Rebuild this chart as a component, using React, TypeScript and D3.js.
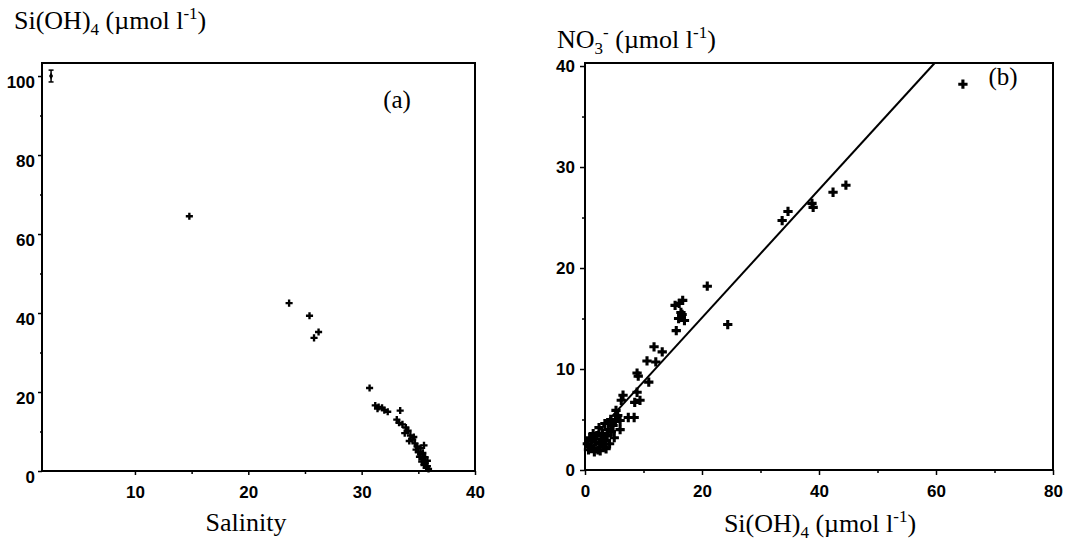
import * as d3 from "d3";
import { useEffect, useRef } from "react";

// (a) salinity vs silicate
const salinity = [14.8, 23.6, 25.4, 26.2, 25.8, 30.7, 31.2, 31.5, 31.8, 32.0, 32.3, 31.4, 33.4, 33.1, 33.3, 33.6, 33.9, 34.1, 33.8, 34.3, 34.5, 34.2, 34.7, 34.9, 34.8, 35.0, 35.2, 35.1, 35.4, 35.3, 35.6, 35.5, 35.8, 35.7, 35.9, 35.2, 35.4, 35.6, 35.8, 35.5, 34.6];
const silicateA = [64.5, 42.5, 39.3, 35.2, 33.7, 21.0, 16.6, 16.2, 16.0, 15.4, 15.0, 15.8, 15.3, 13.0, 12.2, 11.8, 11.0, 10.2, 9.6, 9.0, 8.0, 7.6, 7.0, 6.2, 5.4, 4.8, 4.2, 3.6, 3.0, 2.4, 2.0, 1.5, 1.2, 0.8, 0.5, 5.8, 4.6, 3.5, 2.6, 6.5, 8.6];
// river end member with error bar
const riverPoint = { s: 2.6, si: 100, err: 1.5 };

// (b) silicate vs nitrate
const silicateB = [0.6, 1.0, 1.2, 1.5, 1.8, 2.0, 2.2, 2.5, 2.8, 3.0, 3.2, 3.5, 3.8, 4.0, 4.2, 4.5, 4.8, 5.0, 0.8, 1.4, 2.4, 3.4, 4.4, 2.6, 3.6, 1.6, 0.4, 5.2, 5.6, 3.0, 6.0, 4.4, 6.0, 7.4, 8.4, 5.3, 6.2, 6.5, 8.5, 9.4, 8.9, 10.9, 9.1, 8.9, 10.6, 12.1, 11.8, 13.2, 15.6, 16.0, 16.6, 17.0, 16.4, 15.4, 16.1, 16.7, 20.9, 24.4, 33.7, 34.7, 38.8, 39.0, 42.4, 44.6, 64.6];
const nitrate = [2.0, 2.4, 3.0, 2.2, 2.8, 3.4, 2.0, 2.6, 3.1, 3.6, 2.3, 2.9, 3.4, 4.0, 2.6, 3.8, 4.4, 3.2, 3.2, 3.6, 4.2, 4.6, 5.0, 1.9, 2.1, 1.8, 2.6, 4.8, 5.4, 2.8, 4.0, 4.8, 4.9, 5.2, 5.2, 5.9, 6.9, 7.4, 6.7, 6.9, 7.7, 8.7, 9.3, 9.6, 10.8, 10.7, 12.2, 11.7, 13.8, 15.0, 15.4, 14.8, 15.6, 16.3, 16.5, 16.8, 18.2, 14.4, 24.7, 25.6, 26.4, 26.0, 27.5, 28.2, 38.2];
const fitSlope = 0.634;
const fitIntercept = 2.4;

const ticksAx = [10, 20, 30, 40];
const minorAx = [15, 25, 35];
const ticksAy = [0, 20, 40, 60, 80, 100];
const minorAy = [10, 30, 50, 70, 90];
const ticksBx = [0, 20, 40, 60, 80];
const minorBx = [10, 30, 50, 70];
const ticksBy = [0, 10, 20, 30, 40];
const minorBy = [5, 15, 25, 35];

const serif = "'Liberation Serif', 'Times New Roman', serif";
const sans = "'Liberation Sans', Arial, sans-serif";

// text with sub/superscripts; level: 0 base, "sub" lowered, "sup" raised
const addUnitTitle = (g, x, y, parts) => {
  const t = g.append("text").attr("x", x).attr("y", y).attr("font-family", serif).attr("font-size", 26).attr("fill", "#000");
  let cur = 0;
  parts.forEach(([txt, lvl, dx]) => {
    const target = lvl === "sub" ? 6 : lvl === "sup" ? -10 : 0;
    const sp = t.append("tspan").text(txt).attr("dy", target - cur);
    if (lvl) sp.attr("font-size", 17);
    if (dx) sp.attr("dx", dx);
    cur = target;
  });
  return t;
};

const App = () => {
  const svgRef = useRef(null);

  useEffect(() => {
    const svg = d3.select(svgRef.current);
    svg.selectAll("*").remove();

    const xA = d3.scaleLinear().domain([1.8, 40]).range([42, 475]);
    const yA = d3.scaleLinear().domain([0, 103.3]).range([471, 63]);
    const xB = d3.scaleLinear().domain([0, 80]).range([585, 1053]);
    const yB = d3.scaleLinear().domain([0, 40.3]).range([470, 63]);

    const styleAxis = (g) => {
      g.select(".domain").remove();
      g.selectAll("line").attr("stroke", "#000").attr("stroke-width", 1.5);
      g.selectAll("text").attr("font-family", sans).attr("font-size", 17).attr("font-weight", "bold").attr("fill", "#000");
    };

    // ---- panel (a)
    const a = svg.append("g");
    a.append("g").attr("transform", "translate(0,471)")
      .call(d3.axisBottom(xA).tickValues(ticksAx).tickSize(4).tickPadding(11).tickFormat(d3.format("d")))
      .call(styleAxis);
    a.append("g").attr("transform", "translate(0,471)")
      .call(d3.axisBottom(xA).tickValues(minorAx).tickSize(3).tickFormat(() => ""))
      .call(styleAxis);
    a.append("g").attr("transform", "translate(42,0)")
      .call(d3.axisLeft(yA).tickValues(ticksAy).tickSize(4).tickPadding(3).tickFormat(d3.format("d")))
      .call(styleAxis)
      .selectAll("text").attr("dy", "0.7em");
    a.append("g").attr("transform", "translate(42,0)")
      .call(d3.axisLeft(yA).tickValues(minorAy).tickSize(2).tickFormat(() => ""))
      .call(styleAxis);
    a.append("rect").attr("x", 42).attr("y", 63).attr("width", 433).attr("height", 408)
      .attr("fill", "none").attr("stroke", "#000").attr("stroke-width", 2);

    const smallSym = d3.symbol(d3.symbolCross).size(28);
    a.selectAll("path.pa").data(salinity).enter().append("path").attr("class", "pa")
      .attr("d", smallSym)
      .attr("transform", (d, i) => `translate(${xA(d)},${yA(silicateA[i])})`)
      .attr("fill", "#000");

    const rx = xA(riverPoint.s);
    a.append("line").attr("x1", rx).attr("x2", rx)
      .attr("y1", yA(riverPoint.si - riverPoint.err)).attr("y2", yA(riverPoint.si + riverPoint.err))
      .attr("stroke", "#000").attr("stroke-width", 1.5);
    [riverPoint.si - riverPoint.err, riverPoint.si + riverPoint.err].forEach((v) => {
      a.append("line").attr("x1", rx - 2.5).attr("x2", rx + 2.5).attr("y1", yA(v)).attr("y2", yA(v))
        .attr("stroke", "#000").attr("stroke-width", 1.5);
    });
    a.append("path").attr("d", d3.symbol(d3.symbolDiamond).size(14))
      .attr("transform", `translate(${rx},${yA(riverPoint.si)})`).attr("fill", "#000");

    a.append("text").attr("x", 397).attr("y", 108).attr("text-anchor", "middle")
      .attr("font-family", serif).attr("font-size", 25).text("(a)");
    a.append("text").attr("x", 246).attr("y", 531).attr("text-anchor", "middle")
      .attr("font-family", serif).attr("font-size", 26).text("Salinity");
    addUnitTitle(a, 14, 29, [["Si(OH)"], ["4", "sub"], [" (µmol l"], ["-1", "sup"], [")"]]);

    // ---- panel (b)
    const b = svg.append("g");
    b.append("g").attr("transform", "translate(0,470)")
      .call(d3.axisBottom(xB).tickValues(ticksBx).tickSize(5).tickPadding(10).tickFormat(d3.format("d")))
      .call(styleAxis);
    b.append("g").attr("transform", "translate(0,470)")
      .call(d3.axisBottom(xB).tickValues(minorBx).tickSize(3).tickFormat(() => ""))
      .call(styleAxis);
    b.append("g").attr("transform", "translate(585,0)")
      .call(d3.axisLeft(yB).tickValues(ticksBy).tickSize(5).tickPadding(5).tickFormat(d3.format("d")))
      .call(styleAxis);
    b.append("g").attr("transform", "translate(585,0)")
      .call(d3.axisLeft(yB).tickValues(minorBy).tickSize(3).tickFormat(() => ""))
      .call(styleAxis);
    b.append("rect").attr("x", 585).attr("y", 63).attr("width", 468).attr("height", 407)
      .attr("fill", "none").attr("stroke", "#000").attr("stroke-width", 2);

    const xEnd = (yB.domain()[1] - fitIntercept) / fitSlope;
    b.append("line")
      .attr("x1", xB(0.3)).attr("y1", yB(fitIntercept + fitSlope * 0.3))
      .attr("x2", xB(xEnd)).attr("y2", yB(fitIntercept + fitSlope * xEnd))
      .attr("stroke", "#000").attr("stroke-width", 2);

    const crossSym = d3.symbol(d3.symbolCross).size(48);
    b.selectAll("path.pb").data(silicateB).enter().append("path").attr("class", "pb")
      .attr("d", crossSym)
      .attr("transform", (d, i) => `translate(${xB(d)},${yB(nitrate[i])})`)
      .attr("fill", "#000");

    b.append("text").attr("x", 1003).attr("y", 85).attr("text-anchor", "middle")
      .attr("font-family", serif).attr("font-size", 25).text("(b)");
    addUnitTitle(b, 557, 48, [["NO"], ["3", "sub"], ["-", "sup"], [" (µmol l"], ["-1", "sup"], [")"]]);
    const xt = addUnitTitle(b, 0, 532, [["Si(OH)"], ["4", "sub"], [" (µmol l"], ["-1", "sup"], [")"]]);
    xt.attr("x", 820).attr("text-anchor", "middle");
  }, []);

  return (
    <svg ref={svgRef} width={1066} height={546}
      style={{ position: "absolute", left: 0, top: 0, background: "#fff" }} />
  );
};

export default App;
